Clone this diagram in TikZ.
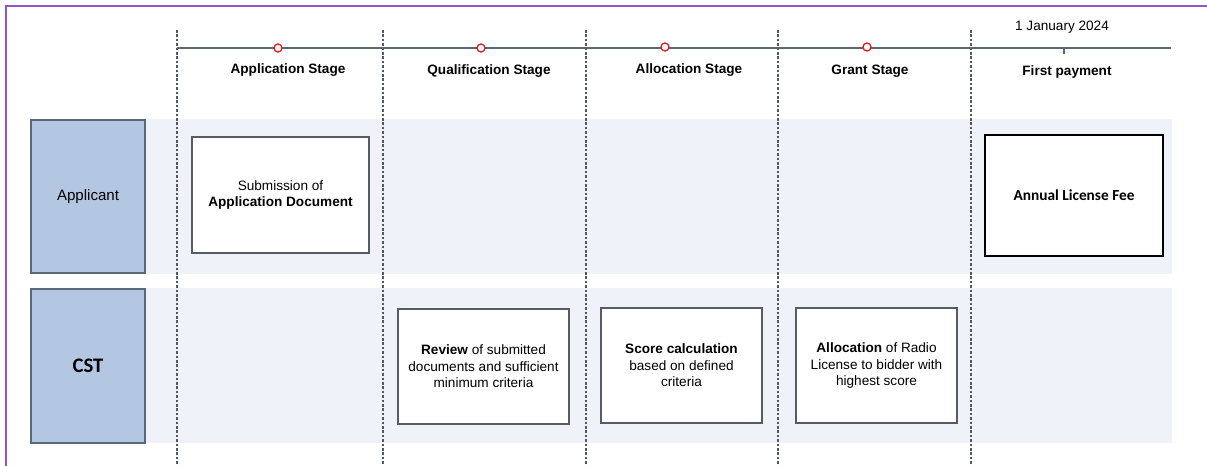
\documentclass[tikz,border=0pt]{standalone}
\usepackage{fontspec}
\setmainfont{Liberation Sans}
\newfontfamily\calib{Carlito}
\definecolor{framepurple}{RGB}{146,84,204}
\definecolor{bandbg}{RGB}{239,242,248}
\definecolor{headfill}{RGB}{180,199,226}
\definecolor{headborder}{RGB}{90,104,120}
\definecolor{boxborder}{RGB}{85,92,100}
\definecolor{lineslate}{RGB}{88,104,118}
\definecolor{dashgray}{RGB}{80,88,98}
\definecolor{dotred}{RGB}{220,30,30}
\begin{document}
\begin{tikzpicture}[x=0.75pt,y=-0.75pt,
  band/.style={fill=bandbg, draw=none},
  lanehead/.style={draw=headborder, fill=headfill, line width=1.1pt, inner sep=0pt, minimum width=85.5pt, minimum height=115pt, font=\fontsize{11.3}{13}\selectfont},
  stepbox/.style={draw=boxborder, fill=white, line width=1.1pt, inner sep=0pt, align=center, font=\fontsize{10.2}{12.4}\selectfont},
  stagelabel/.style={font=\fontsize{10.2}{12}\selectfont\bfseries, inner sep=0pt},
  stagedot/.style={circle, draw=dotred, fill=white, line width=1pt, minimum size=6pt, inner sep=0pt},
  divider/.style={draw=dashgray, line width=0.8pt, dash pattern=on 1.9pt off 1.4pt},
]
\useasboundingbox (0,0) rectangle (1207,465);
\clip (0,0) rectangle (1207,465);
% frame
\draw[framepurple, line width=1.5pt] (6,6) rectangle (1230,490);
% lane bands
\fill[band] (145,119) rectangle (1172,274);
\fill[band] (145,288) rectangle (1172,443);
% dividers
\foreach \i/\x in {0/177,1/383,2/586,3/778,4/971}{
  \coordinate (dt\i) at (\x,30);
  \coordinate (db\i) at (\x,466);
  \draw[divider] (dt\i) -- (db\i);
}
% timeline
\coordinate (tl0) at (177,48);
\coordinate (tl1) at (1171,48);
\draw[lineslate, line width=1.1pt] (tl0) -- (tl1);
\coordinate (tk0) at (1064,47);
\coordinate (tk1) at (1064,54);
\draw[lineslate, line width=0.8pt] (tk0) -- (tk1);
\node[stagedot] (d1) at (278,48) {};
\node[stagedot] (d2) at (481,48) {};
\node[stagedot] (d3) at (665,47) {};
\node[stagedot] (d4) at (867,47) {};
% labels
\node[stagelabel] (s1) at (288,70) {Application Stage};
\node[stagelabel] (s2) at (489,71) {Qualification Stage};
\node[stagelabel] (s3) at (689,70) {Allocation Stage};
\node[stagelabel] (s4) at (870,71) {Grant Stage};
\node[stagelabel] (s5) at (1067,72) {First payment};
\node[font=\fontsize{10.2}{12}\selectfont, inner sep=0pt] (date) at (1062,27) {1 January 2024};
% lane heads
\node[lanehead] (applicant) at (88,196.5) {Applicant};
\node[lanehead, minimum height=115.5pt, font=\calib\fontsize{15.5}{18}\selectfont\bfseries] (cst) at (88,366) {CST};
% boxes
\node[stepbox, minimum width=132.75pt, minimum height=87pt] (sub) at (280.5,195) {Submission of\\\textbf{Application Document}};
\node[stepbox, minimum width=128.25pt, minimum height=86.25pt] (rev) at (483.5,366.5) {\textbf{Review} of submitted\\documents and sufficient\\minimum criteria};
\node[stepbox, minimum width=120.75pt, minimum height=86.25pt] (score) at (681.5,365.5) {\textbf{Score calculation}\\based on defined\\criteria};
\node[stepbox, minimum width=120.75pt, minimum height=86.25pt] (alloc) at (876.5,365.5) {\textbf{Allocation} of Radio\\License to bidder with\\highest score};
\node[stepbox, draw=black, line width=1.6pt, minimum width=133.5pt, minimum height=90.75pt, font=\calib\fontsize{11.5}{14}\selectfont\bfseries] (fee) at (1074,195.5) {Annual License Fee};
\end{tikzpicture}
\end{document}
